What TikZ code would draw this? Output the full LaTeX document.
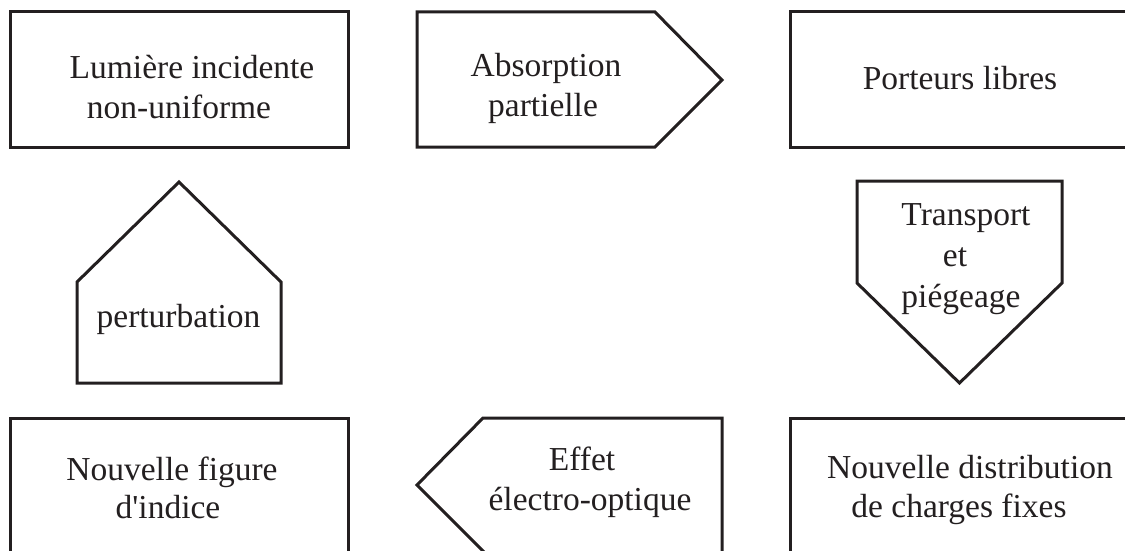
\documentclass[tikz,border=0pt]{standalone}
\usepackage{fontspec}
\setmainfont{Liberation Serif}
\newfontfamily\plainserif{Liberation Serif}
\definecolor{ink}{RGB}{35,31,32}
\newcommand{\mylines}[1]{\vtop{\halign{\hfil##\hfil\cr#1\crcr}}}
\begin{document}
\begin{tikzpicture}[x=1pt,y=-1pt,
  shapeline/.style={draw=ink,line width=3pt,line join=miter},
  lbl/.style={inner sep=0pt,anchor=base,text=ink,font=\plainserif\fontsize{33.5pt}{40pt}\selectfont}]
\useasboundingbox (0,0) rectangle (1125,551);
\clip (0,0) rectangle (1125,551);
% shapes
\draw[shapeline] (10,12) rectangle (348,147);
\draw[shapeline] (417,12) -- (655,12) -- (722,80) -- (655,147) -- (417,147) -- cycle;
\draw[shapeline] (790,12) rectangle (1140,147);
\draw[shapeline] (77,383) -- (77,282) -- (179,182) -- (281,282) -- (281,383) -- cycle;
\draw[shapeline] (857,181) -- (1062,181) -- (1062,283) -- (959.5,383) -- (857,283) -- cycle;
\draw[shapeline] (10,418) rectangle (348,570);
\draw[shapeline] (722,570) -- (722,418) -- (483,418) -- (417,485) -- (500,568);
\draw[shapeline] (790,418) rectangle (1140,570);
% labels
\node[lbl] (lum) at (192,78) {\mylines{Lumière incidente\cr non-uniforme\kern26pt}};
\node[lbl] (abs) at (546,77) {\mylines{Absorption\cr partielle\kern6pt}};
\node[lbl] (por) at (960,89) {Porteurs libres};
\node[lbl] (per) at (178.5,327) {perturbation};
\node[lbl,font=\plainserif\fontsize{33.5pt}{41pt}\selectfont] (tra) at (966,225) {\mylines{Transport\cr et\kern22pt\cr piégeage\kern10pt}};
\node[lbl,font=\plainserif\fontsize{33.5pt}{38.5pt}\selectfont] (nfi) at (172,480) {\mylines{Nouvelle figure\cr d'indice\kern8pt}};
\node[lbl] (eff) at (590,470) {\mylines{Effet\kern16pt\cr électro-optique}};
\node[lbl,font=\plainserif\fontsize{33.5pt}{39pt}\selectfont] (ndc) at (970,478) {\mylines{Nouvelle distribution\cr de charges fixes\kern22pt}};
\end{tikzpicture}
\end{document}
